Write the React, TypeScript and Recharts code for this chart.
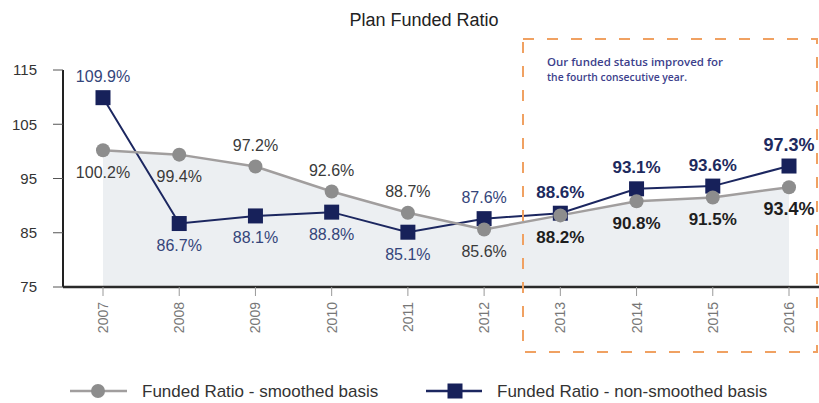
import { ComposedChart, Line, Area, XAxis, YAxis, LabelList } from 'recharts'

const years = ['2007', '2008', '2009', '2010', '2011', '2012', '2013', '2014', '2015', '2016']
const smoothed = [100.2, 99.4, 97.2, 92.6, 88.7, 85.6, 88.2, 90.8, 91.5, 93.4]
const nonSmoothed = [109.9, 86.7, 88.1, 88.8, 85.1, 87.6, 88.6, 93.1, 93.6, 97.3]
const yTicks = [75, 85, 95, 105, 115]
const seriesNames = ['Funded Ratio - smoothed basis', 'Funded Ratio - non-smoothed basis']
const noteLines = ['Our funded status improved for', 'the fourth consecutive year.']

// which side of the point each value label sits on
const smoothedSide = ['below', 'below', 'above', 'above', 'above', 'below', 'below', 'below', 'below', 'below']
const nonSmoothedSide = ['above', 'below', 'below', 'below', 'below', 'above', 'above', 'above', 'above', 'above']

const data = years.map((year, i) => ({
  year,
  smoothed: smoothed[i],
  nonSmoothed: nonSmoothed[i],
}))

const FONT = '"Liberation Sans", Arial, Helvetica, sans-serif'
const GRAY_LINE = '#a19e9e'
const GRAY_DOT = '#8d8d8d'
const NAVY = '#1c2760'
const NAVY_DOT = '#17215a'

function makeLabel(sides: string[], color: string, boldColor: string) {
  return (props: any) => {
    const { x, y, value, index } = props
    const highlight = index >= 6
    const above = sides[index] === 'above'
    const size = index === years.length - 1 ? 18 : highlight ? 17 : 16
    return (
      <text
        key={`lbl-${index}`}
        x={x}
        y={above ? y - 21 : y + 22}
        textAnchor="middle"
        dominantBaseline="central"
        fontFamily={FONT}
        fontSize={size}
        fontWeight={highlight ? 700 : 400}
        fill={highlight ? boldColor : color}
      >
        {Number(value).toFixed(1)}%
      </text>
    )
  }
}

function YearTick(props: any) {
  const { x, y, payload } = props
  return (
    <text
      x={x}
      y={y}
      transform={`rotate(-90, ${x}, ${y})`}
      textAnchor="end"
      dominantBaseline="central"
      fontFamily={FONT}
      fontSize={14}
      fill="#777"
    >
      {payload.value}
    </text>
  )
}

export default function App() {
  return (
    <div style={{ position: 'absolute', left: 0, top: 0, width: 819, height: 403, background: '#fff' }}>
      <ComposedChart
        width={819}
        height={403}
        data={data}
        margin={{ top: 70, right: 0, left: 0, bottom: 66 }}
      >
        <XAxis
          dataKey="year"
          type="category"
          scale="point"
          interval={0}
          padding={{ left: 40, right: 30 }}
          axisLine={{ stroke: '#2a2a2a', strokeWidth: 2.5 }}
          tickLine={{ stroke: '#999' }}
          tickSize={9}
          tickMargin={6}
          height={50}
          tick={<YearTick />}
        />
        <YAxis
          domain={[75, 115]}
          ticks={yTicks}
          width={63}
          axisLine={{ stroke: '#222', strokeWidth: 2 }}
          tickLine={{ stroke: '#555' }}
          tickSize={10}
          tickMargin={16}
          tick={{ fontSize: 15, fill: '#333', fontFamily: FONT }}
        />
        <Area
          dataKey="smoothed"
          type="linear"
          stroke="none"
          fill="#eceff2"
          fillOpacity={1}
          dot={false}
          activeDot={false}
          isAnimationActive={false}
        />
        <Line
          dataKey="nonSmoothed"
          type="linear"
          stroke={NAVY}
          strokeWidth={2}
          dot={(p: any) => (
            <rect key={`sq-${p.index}`} x={p.cx - 7.5} y={p.cy - 7.5} width={15} height={15} fill={NAVY_DOT} />
          )}
          activeDot={false}
          isAnimationActive={false}
        >
          <LabelList dataKey="nonSmoothed" content={makeLabel(nonSmoothedSide, '#34457a', '#1d2a5e')} />
        </Line>
        <Line
          dataKey="smoothed"
          type="linear"
          stroke={GRAY_LINE}
          strokeWidth={2.5}
          dot={(p: any) => <circle key={`c-${p.index}`} cx={p.cx} cy={p.cy} r={7} fill={GRAY_DOT} />}
          activeDot={false}
          isAnimationActive={false}
        >
          <LabelList dataKey="smoothed" content={makeLabel(smoothedSide, '#3a3a3a', '#1e1e1e')} />
        </Line>
      </ComposedChart>

      <svg
        width={819}
        height={403}
        style={{ position: 'absolute', left: 0, top: 0, pointerEvents: 'none' }}
      >
        <text x={424} y={20} textAnchor="middle" dominantBaseline="central" fontFamily={FONT} fontSize={18} fill="#222">
          Plan Funded Ratio
        </text>

        <rect x={523} y={39} width={294} height={313} fill="none" stroke="#f0a162" strokeWidth={2} strokeDasharray="11 13" />
        <text x={547} y={66} fontFamily='"Open Sans", sans-serif' fontSize={11} fontWeight={600} fill="#3d3f8c" textLength={176} lengthAdjust="spacingAndGlyphs">
          {noteLines[0]}
        </text>
        <text x={547} y={81} fontFamily='"Open Sans", sans-serif' fontSize={11} fontWeight={600} fill="#3d3f8c" textLength={140} lengthAdjust="spacingAndGlyphs">
          {noteLines[1]}
        </text>

        <line x1={70} y1={391} x2={127} y2={391} stroke={GRAY_LINE} strokeWidth={2.5} />
        <circle cx={98} cy={391} r={7} fill={GRAY_DOT} />
        <text x={142} y={391} dominantBaseline="central" fontFamily={FONT} fontSize={17} fill="#333">
          {seriesNames[0]}
        </text>

        <line x1={426} y1={391} x2={482} y2={391} stroke={NAVY} strokeWidth={2.5} />
        <rect x={447.5} y={383.5} width={15} height={15} fill={NAVY_DOT} />
        <text x={497} y={391} dominantBaseline="central" fontFamily={FONT} fontSize={17} fill="#333">
          {seriesNames[1]}
        </text>
      </svg>
    </div>
  )
}
